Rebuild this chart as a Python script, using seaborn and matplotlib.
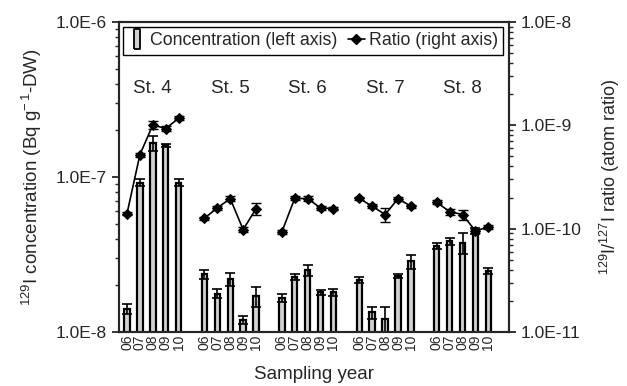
import numpy as np
import pandas as pd
import matplotlib
matplotlib.use("Agg")
import matplotlib.pyplot as plt
import matplotlib.ticker as mticker
import matplotlib.transforms as mtrans
from matplotlib.lines import Line2D
import seaborn as sns

# --- data ---
stations = ["St. 4", "St. 5", "St. 6", "St. 7", "St. 8"]
years = ["06", "07", "08", "09", "10"]

# 129I concentration, Bq g-1 DW (x 1e-8)
conc = [1.41, 9.2, 16.5, 16.0, 9.2,
        2.36, 1.77, 2.19, 1.20, 1.71,
        1.66, 2.28, 2.51, 1.80, 1.80,
        2.16, 1.34, 1.21, 2.30, 2.85,
        3.59, 3.86, 3.77, 4.48, 2.48]
conc_err = [0.10, 0.5, 1.8, 0.4, 0.5,
            0.15, 0.12, 0.2, 0.07, 0.25,
            0.10, 0.10, 0.2, 0.08, 0.10,
            0.10, 0.12, 0.25, 0.07, 0.3,
            0.15, 0.2, 0.6, 0.2, 0.10]

# 129I/127I atom ratio (x 1e-10)
ratio = [1.40, 5.2, 10.1, 9.3, 11.7,
         1.26, 1.59, 1.95, 0.98, 1.56,
         0.93, 1.97, 1.95, 1.59, 1.56,
         1.96, 1.65, 1.37, 1.95, 1.65,
         1.80, 1.46, 1.37, 0.95, 1.04]
ratio_err = [0.05, 0.25, 0.8, 0.5, 0.5,
             0.05, 0.07, 0.10, 0.05, 0.2,
             0.04, 0.08, 0.10, 0.06, 0.05,
             0.08, 0.08, 0.22, 0.08, 0.06,
             0.08, 0.10, 0.15, 0.05, 0.04]

# table: one row per station/year, one empty slot between stations
rows = []
for si, st in enumerate(stations):
    for yi, yr in enumerate(years):
        k = si * len(years) + yi
        rows.append({"station": st, "year": yr, "pos": si * 6 + yi,
                     "conc": conc[k] * 1e-8, "conc_err": conc_err[k] * 1e-8,
                     "ratio": ratio[k] * 1e-10, "ratio_err": ratio_err[k] * 1e-10})
df = pd.DataFrame(rows)

# --- style ---
sns.set_theme(style="ticks")
plt.rcParams['font.family'] = ['Liberation Sans', 'DejaVu Sans']
plt.rcParams['mathtext.fontset'] = 'custom'
plt.rcParams['mathtext.rm'] = 'Liberation Sans'
plt.rcParams['mathtext.it'] = 'Liberation Sans:italic'
plt.rcParams['mathtext.default'] = 'regular'
plt.rcParams['axes.linewidth'] = 1.5

fig, ax = plt.subplots(figsize=(6.27, 3.86), dpi=100)
fig.subplots_adjust(left=119 / 627, right=509 / 627, bottom=1 - 332 / 386, top=1 - 22 / 386)

ax.set_yscale('log')
sns.barplot(data=df, x='pos', y='conc', native_scale=True, width=0.42,
            color='#d2d2d2', saturation=1, edgecolor='black', linewidth=1.6,
            errorbar=None, ax=ax)
ax.errorbar(df['pos'], df['conc'], yerr=df['conc_err'], fmt='none',
            ecolor='black', elinewidth=1.2, capsize=3.5, capthick=1.2)

ax2 = ax.twinx()
ax2.set_yscale('log')
sns.lineplot(data=df, x='pos', y='ratio', units='station', estimator=None,
             color='black', marker='D', markersize=5, markeredgecolor='black',
             linewidth=1.2, legend=False, ax=ax2)
ax2.errorbar(df['pos'], df['ratio'], yerr=df['ratio_err'], fmt='none',
             ecolor='black', elinewidth=1.0, capsize=3.5, capthick=1.0)

# --- axes ---
def sci_fmt(v, p):
    return f"1.0E{int(round(np.log10(v)))}"

for a, lim in ((ax, (1e-8, 1e-6)), (ax2, (1e-11, 1e-8))):
    a.set_ylim(*lim)
    a.yaxis.set_major_locator(mticker.LogLocator(base=10, numticks=10))
    a.yaxis.set_minor_locator(mticker.LogLocator(base=10, subs=np.arange(2, 10), numticks=20))
    a.yaxis.set_major_formatter(mticker.FuncFormatter(sci_fmt))
    a.yaxis.set_minor_formatter(mticker.NullFormatter())
    a.tick_params(axis='y', which='major', direction='out', length=5, width=1.3, labelsize=12.5)
    a.tick_params(axis='y', which='minor', direction='out', length=3, width=1.0)
    a.grid(False)

ax.set_xlim(-0.62, 29.6)
ax.set_xticks(df['pos'])
ax.set_xticklabels(df['year'], rotation=90, fontsize=10)
ax.tick_params(axis='x', length=0, pad=2)
ax.set_xlabel('Sampling year', fontsize=13.5, labelpad=11)
ax.set_ylabel(r'$^{129}$I concentration (Bq g$^{-\,1}$-DW)', fontsize=13.5, labelpad=9)
ax2.set_ylabel(r'$^{129}$I/$^{127}$I ratio (atom ratio)', fontsize=13, labelpad=12)
ax2.xaxis.label.set_visible(False)
ax.xaxis.get_offset_text().set_visible(False)
ax2.xaxis.get_offset_text().set_visible(False)

# station labels
trans = mtrans.blended_transform_factory(ax.transData, ax.transAxes)
for si, st in enumerate(stations):
    ax.text(si * 6 + 2, 0.785, st, transform=trans, ha='center', va='center', fontsize=13.5)

# legend
bar_marker = [(-0.3, -1), (0.3, -1), (0.3, 1), (-0.3, 1), (-0.3, -1)]
handles = [Line2D([], [], linestyle='none', marker=bar_marker, markersize=15,
                  markerfacecolor='#d2d2d2', markeredgecolor='black', markeredgewidth=1.3),
           Line2D([], [], color='black', marker='D', markersize=5, linewidth=1.2)]
leg = ax2.legend(handles, ['Concentration (left axis)', 'Ratio (right axis)'],
                 loc='upper left', bbox_to_anchor=(0.01, 0.984), ncol=2,
                 fontsize=12.8, frameon=True, fancybox=False, framealpha=1,
                 edgecolor='black', borderpad=0.3, handlelength=1.0,
                 handletextpad=0.2, columnspacing=0.6, borderaxespad=0)
leg.get_frame().set_linewidth(1.0)

plt.savefig('out.png', dpi=100)
